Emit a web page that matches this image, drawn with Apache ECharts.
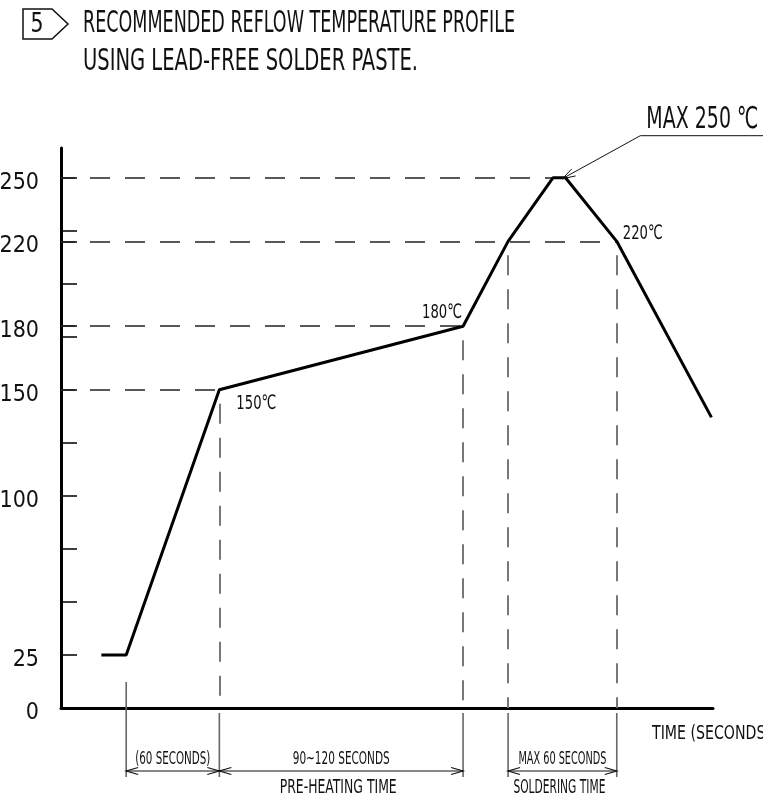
<!DOCTYPE html>
<html><head><meta charset="utf-8">
<script src="https://cdn.jsdelivr.net/npm/echarts@6/dist/echarts.min.js"></script>
<style>html,body{margin:0;padding:0;background:#fff}#c{width:763px;height:794px}</style>
</head><body><div id="c"></div>
<script>
// ---- data ----
const timeSec = [26, 42, 102, 259, 288, 317, 325, 358, 419];
const tempC   = [25, 25, 150, 180, 220, 250, 250, 220, 137];
const yTickValues  = [25, 50, 75, 100, 125, 150, 175, 180, 200, 220, 225, 250];
const yLabelValues = [0, 25, 100, 150, 180, 220, 250];
const hGuideIdx = [2, 3, 5, 7];
const vGuideIdx = [2, 3, 4, 7];
const labelIdx  = [2, 3, 7];
const titleLines = ['RECOMMENDED REFLOW TEMPERATURE PROFILE', 'USING LEAD-FREE SOLDER PASTE.'];
const tagText = '5';
const maxText = 'MAX 250 ℃';
const axisName = 'TIME (SECONDS)';
const spanFrom = [1, 2, 4];
const spanTo   = [2, 3, 7];
const spanText = ['(60 SECONDS)', '90~120 SECONDS', 'MAX 60 SECONDS'];
const spanSub  = ['', 'PRE-HEATING TIME', 'SOLDERING TIME'];

// ---- styling ----
const FONT = '"DejaVu Sans Condensed","Liberation Sans Narrow","Liberation Sans",sans-serif';
const INK = '#111';
const chart = echarts.init(document.getElementById('c'), null, {renderer: 'canvas'});

const hLines = hGuideIdx.map(i => [
  {coord: [0, tempC[i]], lineStyle: {color: '#222', width: 1.5, type: [20, 15], dashOffset: 6}},
  {coord: [timeSec[i], tempC[i]]}
]);
const vLines = vGuideIdx.map(i => [
  {coord: [timeSec[i], tempC[i]], lineStyle: {color: '#777', width: 2, type: [20, 14], dashOffset: 20}},
  {coord: [timeSec[i], 0]}
]);

chart.setOption({
  animation: false,
  backgroundColor: '#fff',
  grid: {left: 61, right: 50, top: 148, bottom: 86, outerBoundsMode: 'none', containLabel: false},
  xAxis: {
    type: 'value', min: 0, max: 420,
    axisLine: {show: true, onZero: false, lineStyle: {color: '#000', width: 3}},
    axisTick: {show: false}, axisLabel: {show: false}, splitLine: {show: false}
  },
  yAxis: {
    type: 'value', min: 0, max: 264,
    axisLine: {show: true, lineStyle: {color: '#000', width: 3}},
    axisTick: {show: true, inside: true, length: 16, customValues: yTickValues, lineStyle: {color: '#000', width: 1.5}},
    axisLabel: {
      show: true, customValues: yLabelValues, margin: 22,
      formatter: v => '{n|' + v + '}',
      rich: {n: {fontFamily: FONT, fontSize: 23, color: INK, padding: [10, 0, 0, 0]}}
    },
    splitLine: {show: false}
  },
  series: [{
    type: 'line',
    data: timeSec.map((t, i) => [t, tempC[i]]),
    symbol: 'none',
    lineStyle: {color: '#000', width: 3},
    z: 5,
    markLine: {silent: true, symbol: ['none', 'none'], label: {show: false}, data: hLines.concat(vLines)}
  }]
});

// ---- annotations positioned through the chart's scales ----
const mctx = document.createElement('canvas').getContext('2d');
function txt(str, x, y, size, targetW, align, vAlign) {
  const font = size + 'px ' + FONT;
  mctx.font = font;
  const w = mctx.measureText(str).width;
  return {type: 'text', x: x, y: y, scaleX: targetW ? targetW / w : 1, silent: true, z: 10,
    style: {text: str, font: font, fill: INK, align: align || 'left', verticalAlign: vAlign || 'middle',
            textAlign: align || 'left', textVerticalAlign: vAlign || 'middle'}};
}
function line(x1, y1, x2, y2, color, w) {
  return {type: 'line', silent: true, z: 10, shape: {x1, y1, x2, y2}, style: {stroke: color || INK, lineWidth: w || 1.2}};
}
function pl(points, color, w) {
  return {type: 'polyline', silent: true, z: 10, shape: {points}, style: {stroke: color || INK, fill: null, lineWidth: w || 1.2}};
}
const px = (t, v) => chart.convertToPixel({gridIndex: 0}, [t, v]);
const g = [];

// title
g.push({type: 'polygon', silent: true, shape: {points: [[23, 9], [52, 9], [68, 24], [52, 39], [23, 39]]}, style: {fill: null, stroke: INK, lineWidth: 1.5}});
g.push(txt(tagText, 37, 25, 26, 13, 'center'));
g.push(txt(titleLines[0], 83, 24, 31, 432));
g.push(txt(titleLines[1], 83, 62, 31, 335));

// point labels
const labOff = {2: [37, 14], 3: [-21, -13], 7: [26, -8]};
labelIdx.forEach(i => {
  const p = px(timeSec[i], tempC[i]);
  g.push(txt(tempC[i] + '℃', p[0] + labOff[i][0], p[1] + labOff[i][1], 20, 40, 'center'));
});

// MAX 250 leader
const pa = px(timeSec[5], tempC[5]), pb = px(timeSec[6], tempC[6]);
const tip = [(pa[0] + pb[0]) / 2 + 3, pa[1] + 1];
const lead = [tip[0] + 78, tip[1] - 43];
g.push(line(lead[0], lead[1], 763, lead[1], INK, 1));
g.push(line(lead[0], lead[1], tip[0], tip[1], INK, 1));
(function () {
  const dx = tip[0] - lead[0], dy = tip[1] - lead[1], L = Math.hypot(dx, dy);
  const ux = dx / L, uy = dy / L, nx = -uy, ny = ux;
  g.push(pl([[tip[0] - ux * 13 + nx * 4, tip[1] - uy * 13 + ny * 4], tip, [tip[0] - ux * 13 - nx * 4, tip[1] - uy * 13 - ny * 4]], INK, 1));
})();
g.push(txt(maxText, lead[0] + 6, lead[1] - 15, 30, 112));

// x axis name
const o = px(0, 0);
const axisY = o[1];
const xEnd = px(420, 0)[0];
g.push(txt(axisName, xEnd - 61, axisY + 26, 20, 119));

// dimension lines
const extIdx = [];
spanFrom.concat(spanTo).forEach(i => { if (extIdx.indexOf(i) < 0) extIdx.push(i); });
extIdx.forEach(i => {
  const x = px(timeSec[i], 0)[0];
  const top = vGuideIdx.indexOf(i) < 0 ? axisY - 26 : axisY + 5;
  g.push(line(x, top, x, axisY + 69, '#666', 1.6));
});
const arrowY = axisY + 63;
const spanW = [75, 97, 88];
spanFrom.forEach((a, k) => {
  const xa = px(timeSec[a], 0)[0], xb = px(timeSec[spanTo[k]], 0)[0];
  g.push(line(xa, arrowY, xb, arrowY, INK, 1.2));
  g.push(pl([[xa + 12, arrowY - 3.5], [xa, arrowY], [xa + 12, arrowY + 3.5]], INK, 1.2));
  g.push(pl([[xb - 12, arrowY - 3.5], [xb, arrowY], [xb - 12, arrowY + 3.5]], INK, 1.2));
  g.push(txt(spanText[k], (xa + xb) / 2, arrowY - 12, 18, spanW[k], 'center'));
  if (spanSub[k]) g.push(txt(spanSub[k], (xa + xb) / 2 - 3, arrowY + 17, 19, spanSub[k].length > 14 ? 117 : 92, 'center'));
});

chart.setOption({graphic: g});
</script>
</body></html>
